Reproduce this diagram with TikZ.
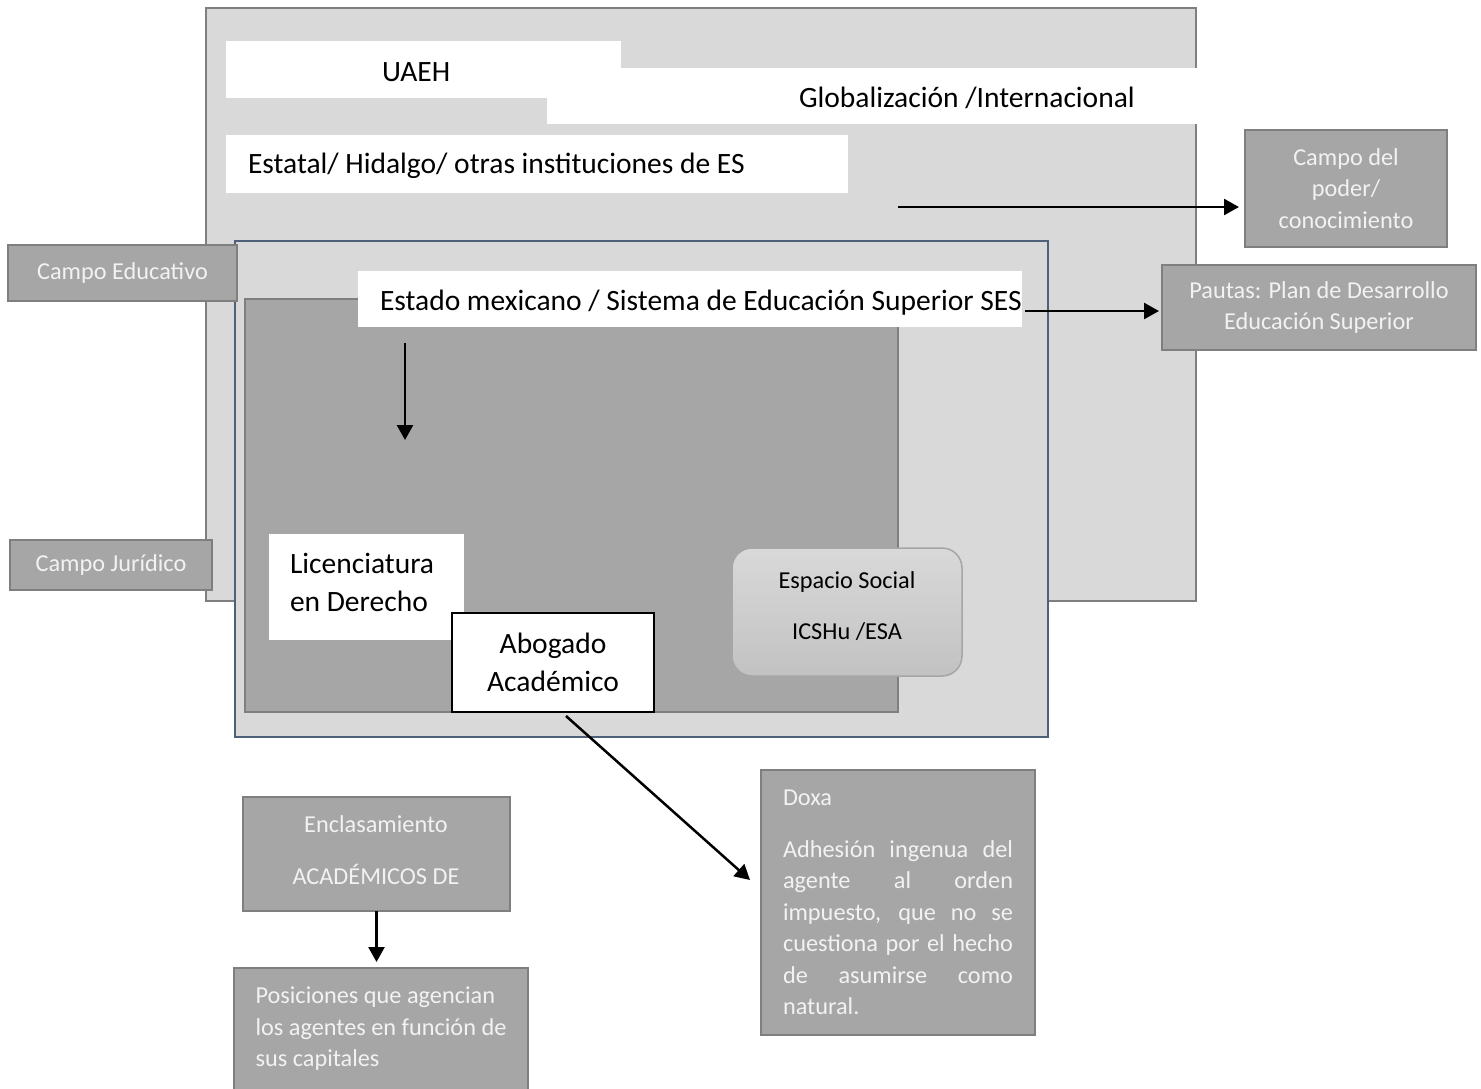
\documentclass[tikz,border=0pt]{standalone}
\usepackage{fontspec}
\setmainfont{Carlito}
\usetikzlibrary{arrows.meta}
\definecolor{lgray}{RGB}{217,217,217}
\definecolor{mgray}{RGB}{166,166,166}
\definecolor{bgray}{RGB}{127,127,127}
\definecolor{slate}{RGB}{79,96,121}
\definecolor{lbl}{RGB}{242,242,242}
\begin{document}
\begin{tikzpicture}[x=1pt,y=-1pt,
 big/.style={font=\fontsize{29.5}{38}\selectfont},
 small/.style={font=\fontsize{24.3}{31.5}\selectfont},
 box/.style={anchor=north west, inner sep=0pt, outer sep=0pt},
 txt/.style={inner sep=0pt, outer sep=0pt, anchor=base west},
 graybox/.style={box, fill=mgray, draw=bgray, line width=2.5pt, text=lbl, small, align=center},
 whitebox/.style={box, fill=white},
 arr/.style={line width=2.5pt, -{Triangle[length=15pt,width=16pt]}},
]
\useasboundingbox (0,0) rectangle (1481,1088);
% outer field
\node[box, fill=lgray, draw=bgray, line width=2.5pt, minimum width=990pt, minimum height=593pt] (educ) at (206,8) {};
\node[whitebox, minimum width=651pt, minimum height=56pt] (glob) at (547,68) {};
\node[whitebox, minimum width=395pt, minimum height=57pt] (uaeh) at (226,41) {};
\node[txt, big] (uaehT) at (382,81) {UAEH};
\node[txt, big] (globT) at (799,107) {Globalización /Internacional};
\node[whitebox, minimum width=622pt, minimum height=58pt] (estatal) at (226,135) {};
\node[txt, big] (estatalT) at (248,173) {Estatal/ Hidalgo/ otras instituciones de ES};
\node[graybox, minimum width=202pt, minimum height=117pt] (poder) at (1245,130) {Campo del\\poder/\\conocimiento};
% inner field
\node[box, fill=lgray, draw=slate, line width=2.5pt, minimum width=813pt, minimum height=496pt] (jur) at (235,241) {};
\node[box, fill=mgray, draw=bgray, line width=2pt, minimum width=653pt, minimum height=413pt] (dark) at (245,299) {};
\node[whitebox, minimum width=664pt, minimum height=56pt] (estado) at (358,271) {};
\node[txt, big] (estadoT) at (380,310) {Estado mexicano / Sistema de Educación Superior SES};
\node[graybox, minimum width=314pt, minimum height=85pt] (pautas) at (1162,265) {Pautas: Plan de Desarrollo\\Educación Superior};
\node[graybox, minimum width=229pt, minimum height=56pt] (ce) at (8,245) {Campo Educativo};
\node[graybox, minimum width=202pt, minimum height=50pt] (cj) at (10,540) {Campo Jurídico};
\node[whitebox, minimum width=195pt, minimum height=106pt] (lic) at (269,534) {};
\node[txt, big, align=left, anchor=north west] (licT) at (290,553) {Licenciatura\\en Derecho};
\node[whitebox, draw=black, line width=2pt, big, minimum width=202pt, minimum height=99pt, align=center] (abog) at (452,613) {Abogado\\Académico};
\node[box, rounded corners=20pt, top color=lgray, bottom color=black!24, draw=black!35, line width=1.5pt, minimum width=230pt, minimum height=128pt] (esp) at (732,548) {};
\node[inner sep=0pt, small, align=center] (espT) at (847,606) {Espacio Social\\[20pt]ICSHu /ESA};
% lower boxes
\node[graybox, minimum width=274pt, minimum height=265pt, text width=230pt, inner xsep=22pt, align=justify] (doxa) at (761,770) {Doxa\\[20pt]Adhesión ingenua del\linebreak agente al orden\linebreak impuesto, que no se\linebreak cuestiona por el hecho\linebreak de asumirse como\linebreak natural.};
\node[graybox, minimum width=267pt, minimum height=114pt] (encl) at (243,797) {};
\node[inner sep=0pt, small, text=lbl, align=center] (enclT) at (376,850) {Enclasamiento\\[20pt]ACADÉMICOS DE};
\node[graybox, minimum width=294pt, minimum height=122pt, align=left] (pos) at (234,968) {Posiciones que agencian\\los agentes en función de\\sus capitales};
% arrows
\coordinate (a1s) at (898,207);
\draw[arr, shorten >=6pt] (a1s) -- (a1s -| poder.west);
\coordinate (a2s) at (1025,311);
\draw[arr, shorten >=3pt] (a2s) -- (a2s -| pautas.west);
\coordinate (a3s) at (405,343);
\coordinate (a3e) at (405,440);
\draw[arr] (a3s) -- (a3e);
\coordinate (a4s) at (566,716);
\coordinate (a4e) at (750,880);
\draw[arr] (a4s) -- (a4e);
\draw[arr, shorten >=6pt] (encl.south) -- (encl.south |- pos.north);
\end{tikzpicture}
\end{document}
